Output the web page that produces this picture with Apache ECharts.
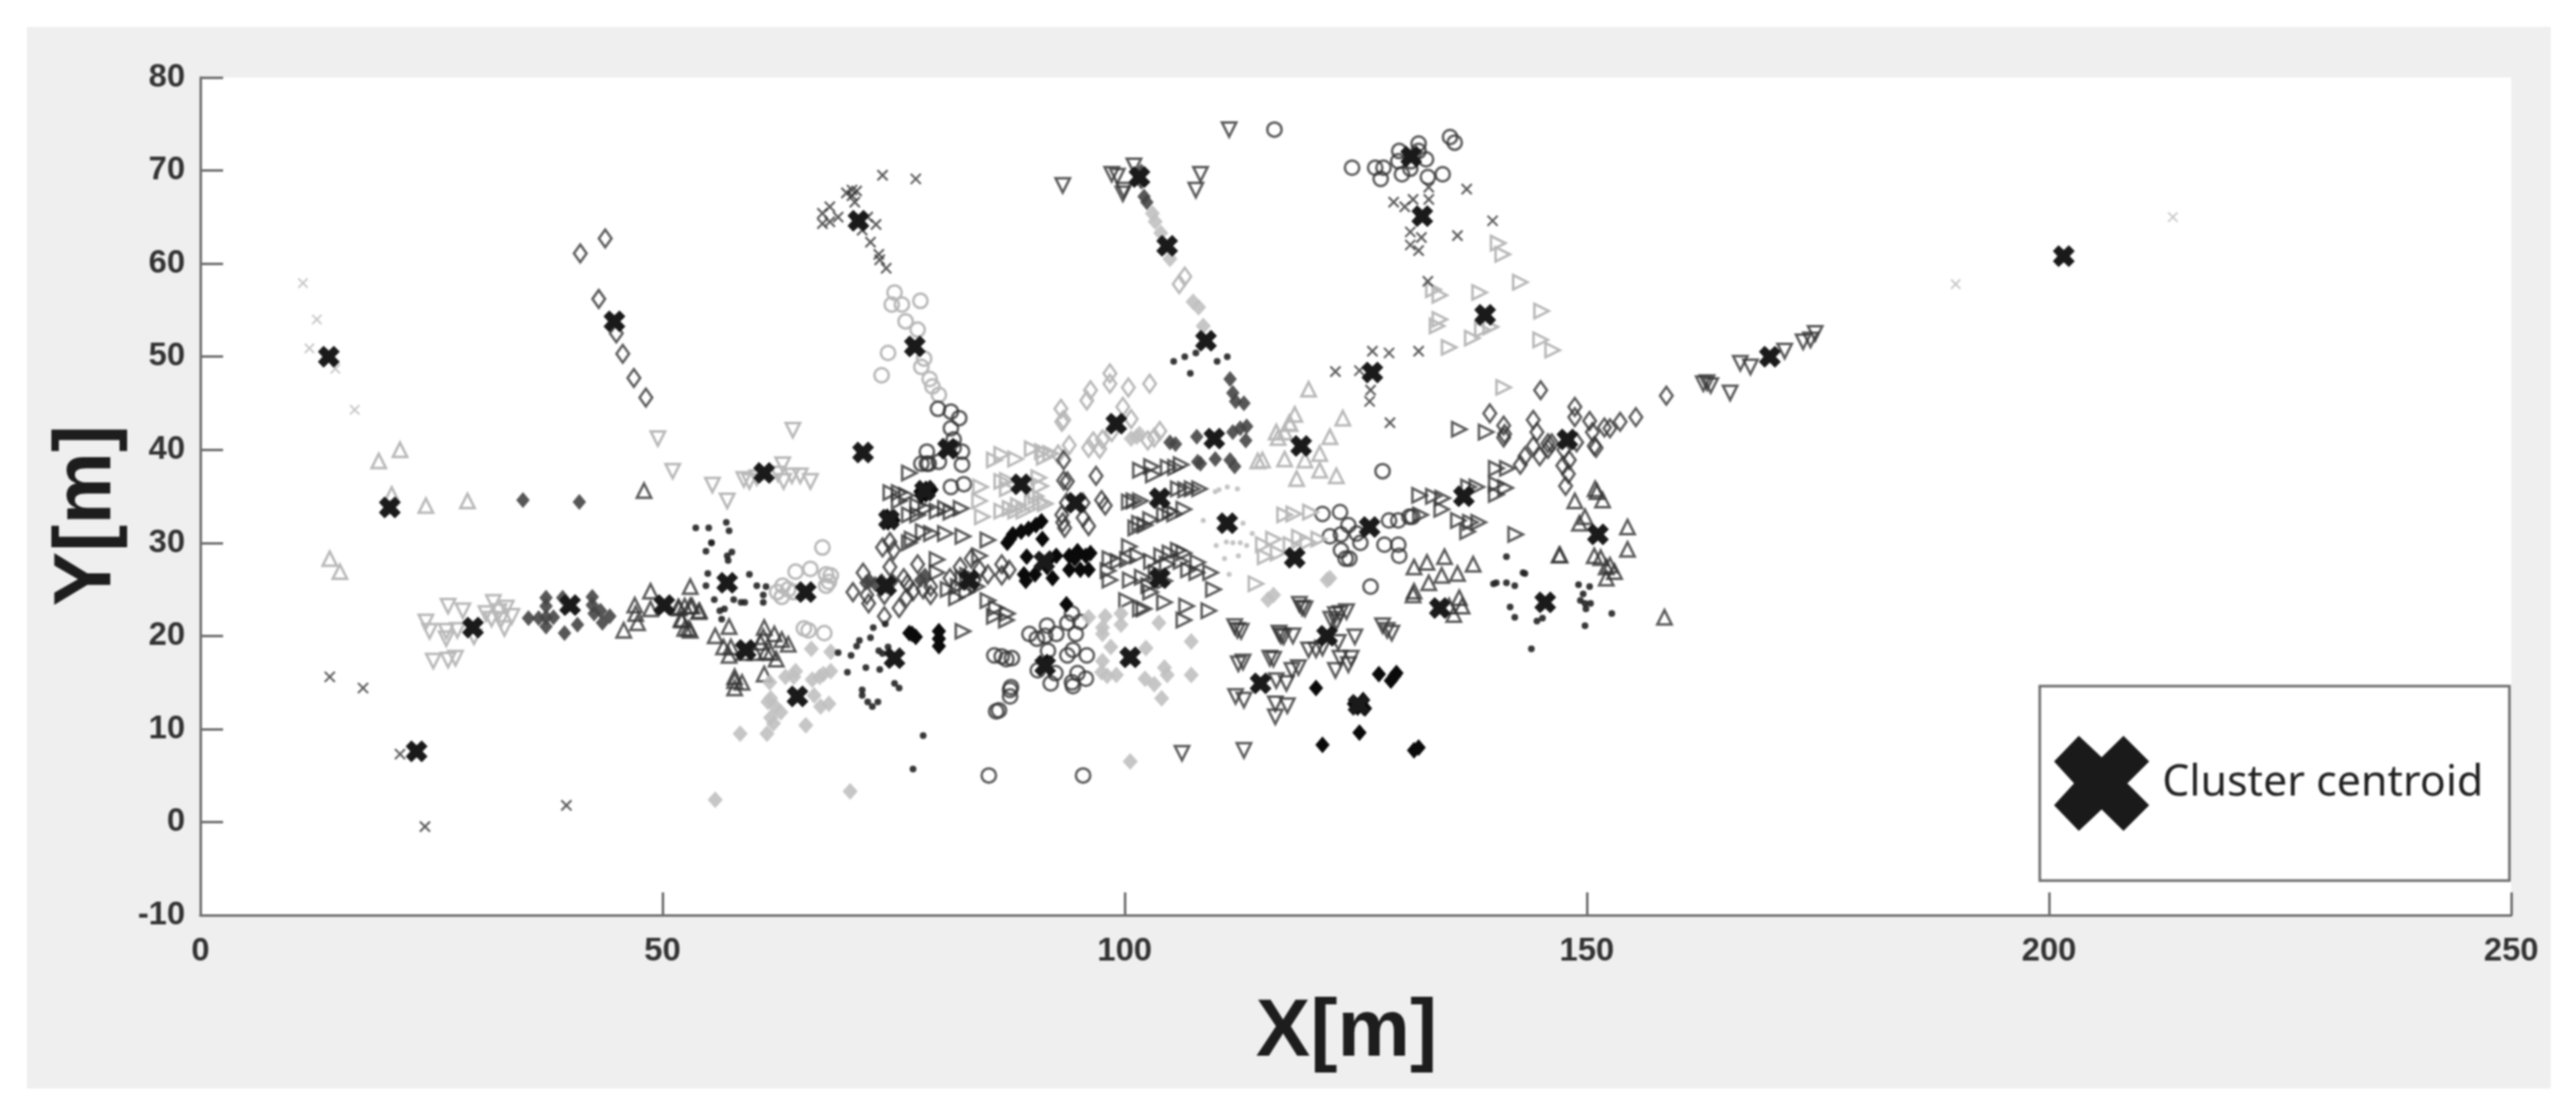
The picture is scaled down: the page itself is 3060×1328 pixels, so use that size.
<!DOCTYPE html>
<html><head><meta charset="utf-8"><title>Cluster centroids</title>
<script src="https://cdn.jsdelivr.net/npm/echarts@6/dist/echarts.min.js"></script>
<style>html,body{margin:0;padding:0;background:#fff;width:3060px;height:1328px;overflow:hidden}
#chart{position:absolute;left:32px;top:32px;width:2998px;height:1261px;filter:blur(0.9px)}</style></head>
<body><div id="chart"></div>
<script>
const xTicks=[0,50,100,150,200,250];
const yTicks=[-10,0,10,20,30,40,50,60,70,80];
const centroids=[[13.9,50],[20.5,33.8],[23.4,7.6],[29.5,20.9],[40,23.3],[50.2,23.3],[44.8,53.8],[57,25.7],[61,37.5],[64.6,13.5],[65.5,24.7],[71.2,64.6],[71.7,39.7],[77.3,51.1],[75.1,17.6],[74.2,25.4],[80.9,40.1],[78.4,35.6],[74.5,32.5],[83.2,26],[88.8,36.3],[94.7,34.3],[103.8,34.8],[111.1,32.1],[118.4,28.4],[126.5,31.7],[136.7,35],[91.3,28],[103.8,26.2],[59,18.5],[100.6,17.7],[91.4,16.8],[121.9,20],[114.7,14.9],[125.3,12.6],[134.1,23],[145.5,23.6],[151.2,30.9],[147.9,41.1],[169.8,50],[201.6,60.8],[104.6,61.9],[108.8,51.7],[132.2,65.1],[139,54.5],[126.8,48.3],[99.1,42.8],[109.7,41.2],[119.1,40.4],[101.6,69.3],[131,71.5]];
const circleLight=[[67.3,29.5],[64.4,26.9],[66,27.2],[67.7,26.6],[68.2,26.5],[67.7,25.4],[63,25.4],[62.4,24.7],[63.6,25],[64.2,24.7],[65.8,20.6],[67.5,20.3],[65.3,20.8],[75.1,56.9],[74.8,55.6],[75.9,55.6],[77.9,56],[76.3,53.8],[77.6,52.9],[74.4,50.4],[73.7,48],[78.3,49.8],[78,48.9],[78.9,47.6],[79.2,46.8],[79.9,45.9],[68,25.8],[62.9,24.2]];
const circleDark=[[79.8,44.4],[81.2,44.1],[82.1,43.4],[81.2,42.3],[81.5,41.1],[78.6,39.8],[78.6,38.5],[82.4,39.8],[82.4,38.4],[81.2,36],[82.6,36.3],[78,38.5],[78.8,38.5],[79.9,38.7],[81.5,40.2],[85.9,17.9],[86.7,17.8],[87.8,17.6],[87.2,17.5],[87.6,14.2],[87.6,13.5],[87.7,14.5],[86.4,12],[86.1,11.9],[89.7,20.2],[90.5,19.7],[91.6,21.1],[91.4,20],[92.6,20.2],[90.6,16.3],[91.7,18.4],[92,14.9],[92.5,16],[93.8,21.4],[94.3,22.4],[95.2,21.5],[94.7,20.2],[93.8,17.9],[94.4,18.5],[95.9,17.9],[94.9,16],[94.4,14.6],[94.3,15],[95.8,15.4],[116.2,74.4],[124.6,70.3],[127.1,70.3],[128,70.3],[127.7,69.1],[129.7,72.1],[131.8,72.9],[131.8,72.1],[130,69.6],[130.9,70.2],[132.6,71.2],[134.4,69.6],[132.8,69.3],[135.2,73.6],[135.7,73],[131,71],[129.6,71],[85.3,5],[95.5,5],[127.9,37.7],[128.6,32.4],[129.6,32.4],[130.8,32.8],[131.1,32.8],[128.1,29.8],[129.6,29.8],[129.7,28.6],[126.6,25.3],[124.3,28.3],[125.5,30],[124.2,31.9],[125.1,31],[121.4,33.1],[123.3,33.3],[122.2,30.7],[123.4,30.9],[123.4,29.2],[123.9,28.3]];
const diamondLight=[[98.4,48.2],[98.4,47.1],[96.3,46.4],[95.9,45.3],[100.4,46.7],[102.7,47.1],[93.1,44.4],[93.4,43.2],[99.8,44.6],[100.7,43.3],[96.6,40.9],[94,40.5],[98.6,41.9],[96.1,40.2],[93.2,43],[92.8,39.5],[97.3,40.1],[97.6,41.1],[102.5,41],[103.2,41.3],[103.8,42],[105.9,57.8],[106.5,58.6]];
const diamondDark=[[41.1,61.1],[43.8,62.7],[43.1,56.2],[45,52.5],[45.7,50.3],[46.9,47.7],[48.2,45.6],[70.6,24.7],[71.7,26.8],[72.3,23.5],[72.1,24.4],[74.6,27.4],[74,24.4],[76.1,26.2],[75.6,23],[76.5,25.6],[77.6,27.7],[78.2,25],[77.1,24.8],[79,24.4],[79,25.3],[76.4,24.1],[74,22.1],[81.1,26.2],[82.2,27.4],[83.4,28.3],[84.3,27.1],[85.2,26.6],[86.7,27.7],[87.5,27.1],[86.7,26.5],[83.7,26],[93.4,38.9],[93.4,36.7],[93.8,36.6],[96.9,37.2],[97.9,34],[97.5,34.6],[93.7,34.3],[95.5,34.3],[93.2,33],[95.5,32.7],[96.1,31.8],[93.5,31.6],[93.3,32.2],[73.8,29.5],[74.6,30.1],[75,29.2],[145,46.4],[139.5,43.9],[141,42.6],[141.1,41.7],[141,41.3],[144.2,43.2],[144.6,41.9],[144.2,40.4],[144.9,39.3],[145.8,40.7],[145.8,40.1],[143.3,39.3],[142.8,38.4],[148.7,44.6],[148.7,43.5],[150.3,43.1],[150.6,41.9],[150.8,40.4],[147.5,40],[148.1,38.9],[147.4,38.3],[148,37.4],[147.7,36.1],[148.9,40.8],[151.9,42.4],[152.5,42.3],[153.6,43],[155.3,43.5],[158.6,45.8],[151,40.2],[146.2,40.7]];
const triUpLight=[[19.3,38.8],[21.6,40],[20.7,35.2],[24.4,34],[28.9,34.5],[14,28.3],[15.1,26.9],[114.9,38.9],[114.4,38.8],[117.3,39],[119.5,38.9],[121.1,37.8],[118.6,36.9],[122.9,37.2],[122.2,41.4],[121.1,39.6],[116.4,41.9],[116.6,41.3],[117.3,41.9],[117.9,42.8],[119.9,46.5],[123.6,43.4],[118.4,43.8],[117.8,42.9]];
const triUpDark=[[48,35.6],[53,25.3],[52.4,23.2],[51.7,23.1],[53,23.2],[53.9,22.6],[52.1,21.7],[52.4,20.8],[53,20.6],[45.8,20.6],[47,23.3],[47.1,22.4],[47.3,21.4],[48.7,24.8],[48.7,22.9],[54,22.7],[52,21.8],[52.8,20.8],[51.8,23],[53.2,23.2],[55.7,20],[57.2,21],[56.6,18.8],[57.4,18.8],[57.2,17.9],[58.8,18.2],[60,18.2],[61,20.9],[60.9,19.9],[62.1,20.2],[62.9,19.6],[63.6,19.1],[61.2,18.3],[62.3,17.5],[60.6,19.3],[61.7,18.2],[61,15.9],[57.8,15.6],[57.8,15.2],[57.8,14.4],[58.6,15],[134.6,28.5],[132.7,27.9],[131.3,27.4],[137.7,27.7],[134.3,26.5],[136,26.7],[132.9,25.7],[131.3,24.8],[131.2,24.4],[147,28.7],[148.7,34.5],[150.8,28.6],[149.2,32.1],[149.8,32.8],[136.2,24.1],[136.5,23.2],[135.6,22.3],[135.1,23.2],[151.1,35.5],[151.7,34.6],[150.9,35.8],[154.4,31.7],[154.4,29.3],[147.1,28.7],[151.5,28.4],[152.1,27.4],[153,26.9],[152.1,26.2],[152.5,27.6],[158.4,22]];
const triDownLight=[[49.5,41.2],[51.1,37.7],[55.4,36.2],[57,34.5],[64.1,42.1],[63,38.4],[58.8,36.8],[59.4,36.6],[60.2,37],[63.1,36.6],[64,37.2],[64.9,37.2],[66,36.6],[62.5,37.4],[24.4,21.5],[24.8,20.5],[26.6,20.5],[26.6,19.7],[27.8,20.6],[26.8,23.2],[28.4,22.7],[31.7,23.6],[33.1,23],[30.9,22.4],[31.5,21.8],[32.5,21.7],[33.7,22.1],[32.9,20.8],[32.3,22.6],[25.2,17.3],[26.8,17.4],[27.6,17.6],[29.6,19.9]];
const triDownDark=[[93.3,68.4],[98.6,69.6],[99.2,69.4],[101,70.5],[99.8,67.5],[99.9,67.9],[108.2,69.6],[107.7,67.9],[111.3,74.4],[162.6,47.1],[163.4,46.9],[163,47.2],[165.5,46.1],[166.6,49.3],[167.7,48.9],[171.4,50.6],[173.4,51.6],[174.2,51.8],[174.7,52.5],[106.2,7.4],[112.9,7.7],[119.5,22.9],[118.9,23.4],[119.2,23],[122.8,22.3],[123.3,22.4],[124,22.6],[122.3,21.8],[122.9,21.5],[112.2,20.6],[112.6,20.5],[111.9,21],[116.9,20],[117.2,19.9],[116.7,20.3],[118.2,20],[119.9,18.5],[120.7,18.5],[121.4,18.7],[123.1,19.3],[124.9,19.9],[123.3,17.6],[124.5,17.6],[124.2,16.9],[122.8,16.3],[127.9,21.1],[128.9,20.3],[128.4,20.6],[112.3,17],[112.8,17.2],[115.7,17.6],[116.1,17.5],[118.1,16.3],[118.8,16.6],[116.4,15.2],[117.5,14.9],[112,13.5],[112.9,13.1],[116.3,12.7],[117.6,12.5],[116.3,11.3]];
const triRightLight=[[84.4,36],[84.3,34.5],[84.6,32.8],[85.9,38.9],[86.7,39.5],[88.2,39],[90,40.1],[91.1,39.8],[91.3,39.2],[92,39.6],[86.7,36.6],[87.3,36.7],[86.7,33.4],[87.6,33.7],[88.2,33.4],[89.1,33.4],[90,34.3],[90.7,37],[90.9,36.1],[90.9,34.3],[91.4,34.2],[87.3,35.8],[90.4,35],[88.5,34],[117.3,33],[118.3,33.1],[120.1,33.3],[115,29.8],[116.1,30.4],[116.6,28.9],[115.2,28.5],[118.9,30.6],[119.8,30.1],[121,30.4],[118,29.8],[114.2,25.6],[140.4,62.2],[140.9,61],[142.8,58],[138.4,56.9],[134.1,56.6],[133.4,57.2],[134.1,54],[133.8,53.3],[145.1,54.9],[135.1,51],[137.6,52],[138.7,52.9],[139.6,53.2],[145,51.8],[146.3,50.7],[141,46.7]];
const triRightDark=[[79.7,28.2],[79.7,26.8],[80.9,25],[82,25.3],[81.8,24.1],[82.9,24.7],[84.3,28.6],[83,26.5],[82.5,26.2],[84,25.3],[77,30.4],[76.7,30],[78.2,31.2],[79.1,31],[80.6,31],[82.5,30.7],[85.2,30.3],[76.7,33],[77.6,33],[78.5,33.7],[79.7,33.4],[80.6,33.7],[81.2,33.3],[82.3,33.7],[77.6,34],[74.7,35.4],[75.6,35.4],[75.6,34.5],[76.4,35.1],[76.7,37.5],[85.2,23.8],[86.1,23],[87.3,22.4],[85.9,22.1],[87.2,21.7],[82.5,20.5],[100.5,29.6],[98.4,28.3],[99.3,28],[98.2,27],[98.4,26],[100.3,28.2],[101.4,28.6],[100.6,26],[101.9,26.3],[102.6,25.4],[102.8,24.7],[102.9,28],[104,28.6],[104.9,28.9],[105.8,29.2],[106.4,28.9],[106.1,28],[106.9,27.1],[107.9,27.9],[107.8,26.8],[109.3,26.8],[109.6,25],[104.3,25.9],[103.4,26.8],[104.6,27.7],[100.2,23.8],[101.7,22.9],[102.1,22.9],[104.3,23.6],[106.7,23.2],[106.4,21.7],[109.1,22.7],[101,34.5],[100.5,34.4],[101.7,34.5],[101.6,32.1],[102.2,31.9],[101.2,31.6],[102.8,32.5],[104.3,33],[105.4,33.1],[106.4,33.6],[104.9,33.4],[105.8,35.8],[106.6,35.7],[107.3,35.8],[108.1,35.8],[101.7,37.8],[102.9,38.2],[103.1,37.3],[104.7,38.1],[105.5,38.1],[106.1,38.4],[136.2,42.2],[131.9,35.1],[133.4,35],[134.4,34.8],[132,33],[134.3,33.6],[138.1,36],[137.2,36],[136.1,32.4],[137.1,31.2],[138.3,32.2],[137.4,32.2],[140.2,38],[141.4,38],[140.2,36.3],[141.2,35.9],[140.2,35.2],[142.3,30.9],[139.1,41.9]];
const xLight=[[11.1,57.9],[12.6,54],[11.8,50.9],[14.6,48.7],[16.7,44.3],[189.9,57.8],[213.4,65]];
const xDark=[[14,15.6],[17.6,14.4],[21.6,7.3],[24.3,-0.5],[39.6,1.8],[73.8,69.5],[77.4,69.1],[70.5,67.9],[69.9,67.6],[71,67.8],[70.5,67.3],[68.1,66.1],[67.3,65.4],[69,65],[67.3,64.3],[68.1,64.5],[70.8,66.6],[72.2,65],[73.1,64.2],[71.6,63.6],[72.5,62.3],[73.4,61],[73.5,60.4],[74.2,59.5],[137,68],[129.1,66.6],[130.3,66.1],[131.2,66.9],[132.9,66.9],[132.9,68.2],[130.9,63.4],[132.1,62.8],[130.9,62],[131.8,61.4],[136,63],[139.8,64.6],[132.8,58.1],[126.8,50.6],[128.6,50.4],[131.8,50.6],[122.8,48.4],[125.4,48.5],[126.6,46.4],[126.5,45.2],[128.7,42.9]];
const starLight=[[66.1,18.6],[68.2,18.3],[64.4,16.2],[63.3,15.6],[64.2,15.6],[67,15.6],[68.2,16.2],[66.2,15.3],[67.4,15.9],[61.7,13.3],[61.4,12.9],[62.2,12.4],[61.7,11.2],[62.8,11.8],[62,10.6],[66.4,13.6],[68,12.7],[67.1,12.4],[65.5,10.4],[61.3,9.5],[58.4,9.5],[61.6,15],[55.7,2.4],[70.3,3.3],[100.6,6.5],[97.9,22.1],[97.6,20.9],[97.6,20.2],[99.6,22.4],[99.6,21.2],[98.5,18.8],[97.6,17.3],[97.5,16.1],[98.1,15.7],[99.1,15.8],[103.7,21.4],[102.3,18.7],[102.2,15.4],[103.2,14.8],[104.3,16.6],[104.6,15.8],[104,13.3],[96.1,22],[107.2,19.4],[107.2,15.8],[103,65.4],[103.3,64.5],[103.9,63.3],[104.9,60.5],[107.4,55.9],[108,55.3],[108.5,53.3],[101.3,41.4],[100.7,41.2],[101.6,41.7],[121.9,26],[122.2,26.2],[115.5,23.9],[116.1,24.4]];
const starDark=[[34.9,34.6],[41,34.4],[35.5,21.9],[36.6,21.9],[37.4,24.1],[37.4,23.2],[37.4,22],[37.4,21],[39.4,20.3],[39.2,24.1],[40.8,21.2],[42.4,24.2],[42.4,23.3],[42.6,22.4],[43.5,21.4],[44.3,22.1],[43.3,22.7],[38.2,22],[104.9,40.8],[105.5,40.6],[107.8,41.4],[111.7,41.9],[112.5,42.3],[113.2,42.5],[113.1,41],[108.2,38.5],[109.8,39],[111.4,38.9],[111.9,38.2],[107.9,38.7],[111.4,47.6],[111.7,46.1],[112,45.2],[112.9,45],[101.8,69.9],[101.8,68.8],[102.1,67.2],[102.4,66.6],[72.4,25.9],[73,25.6],[73.7,25.9],[74.3,25.3],[74.9,25.9],[72,25.7],[78.4,26.5],[77.9,26]];
const starBlack=[[74.3,32.8],[75,32.4],[74.4,32.2],[74.8,32.7],[77.9,35.5],[78.5,35.8],[79.1,35.7],[78,35.1],[78.5,35.2],[87.6,30.4],[87.3,30],[87.9,30.9],[88.8,31.2],[89.6,31.5],[90.4,31.9],[91,32.3],[91.1,30.4],[89.4,28.5],[89.1,26.6],[89.3,25.9],[90.3,26.6],[91.9,28.3],[92.6,28.6],[92.2,26.2],[91.6,27.4],[94,28.6],[94.9,29.1],[95.8,28.6],[96.3,28.9],[94,27.1],[95.2,27.1],[96.1,27.1],[94.6,28.3],[93.7,23.4],[91.6,17.2],[120.7,14.4],[127.5,15.9],[129.2,15.7],[129.4,16],[128.8,15.2],[124.8,12.7],[125.8,13.1],[125.2,12.3],[126,12.2],[125.4,9.6],[121.4,8.3],[131.3,7.7],[131.8,8],[79.9,20.5],[79.9,19.7],[79.9,18.9],[77,20.2],[77.4,19.9],[76.7,20.3]];
const dotLight=[[109.8,35.5],[110.2,35.7],[111.1,36],[112.2,35.8],[108.5,32.4],[112.8,32.1],[113.8,31],[109.9,29.7],[111,30.1],[111.7,30],[112.5,30],[113.2,29.7],[110.8,28.3],[112.3,28.6],[111.3,26.6]];
const dotDark=[[55.3,30],[54.7,29.1],[54.9,26.7],[54.7,25.4],[59.4,26.6],[60.2,25.4],[61.2,25.3],[60.9,24.4],[60.9,23.6],[57.5,29],[57,28.6],[57.1,28.1],[55.6,23.9],[57.7,23.9],[58.5,23.6],[58.9,23.6],[56.2,22.7],[56.7,22.9],[56.4,21.8],[69,18.2],[70.4,17.9],[71,18.9],[71.3,19.5],[72.5,19.8],[72.8,20.9],[74.1,21.3],[70,16.1],[72,16.6],[73.4,18.4],[73.8,18.1],[74.4,18.8],[73.5,16.4],[71.6,14.2],[71.6,13.6],[72.2,12.9],[72.7,12.4],[73.3,12.9],[75.1,14.9],[75.6,14.4],[78.2,9.3],[77.1,5.7],[53.6,31.6],[55,31.6],[56.9,32.2],[57.2,31.3],[55.3,30],[105.3,49.5],[106.5,50],[107.7,50.4],[110,49.5],[111.1,50],[107.1,48.2],[141.3,28.5],[143.1,26.8],[139.9,25.6],[140.2,25.7],[141.3,25.7],[142.2,25.4],[149.1,25.5],[150.3,25.3],[141.7,23.1],[142.2,22],[144.6,21.6],[145.2,21.9],[149.8,21.1],[149.3,23.8],[149.8,23.5],[150.4,23.5],[149.9,22.9],[149.6,24.5],[143.3,26.7],[152.7,22.4],[144,18.6]];

const LIGHT='#b8b8b8',DARK='#333333',BLACK='#0a0a0a';
const crossPath='path://M26,0L50,22.5L73,0L100,27L77,50L100,73L73,100L50,77.5L26,100L0,73L21,50L0,27Z';
const xPath='path://M0,0L10,10M10,0L0,10';
const open=(name,data,symbol,size,color,rotate)=>({name,type:'scatter',data,symbol,symbolSize:size,symbolRotate:rotate||0,silent:true,
  itemStyle:{color:'rgba(0,0,0,0)',borderColor:color,borderWidth:3,opacity:color===LIGHT?1:.8}});
const solid=(name,data,symbol,size,color)=>({name,type:'scatter',data,symbol,symbolSize:size,silent:true,itemStyle:{color,opacity:color===BLACK?1:.9}});

const option={
  animation:false,backgroundColor:'#efefef',
  grid:{show:true,backgroundColor:'#fff',borderWidth:0,left:206,right:47,top:60,bottom:206,containLabel:false,outerBoundsMode:'none'},
  xAxis:{type:'value',min:xTicks[0],max:xTicks[xTicks.length-1],interval:50,
    axisLine:{show:true,onZero:false,lineStyle:{color:'#6e6e6e',width:3}},
    axisTick:{show:true,inside:true,length:27,lineStyle:{color:'#6e6e6e',width:3}},splitLine:{show:false},
    axisLabel:{color:'#333',fontFamily:'Liberation Sans',fontWeight:'bold',fontSize:39,margin:24,hideOverlap:false},
    name:'X[m]',nameLocation:'middle',nameGap:92,
    nameTextStyle:{color:'#1d1d1d',fontFamily:'Liberation Sans',fontWeight:'bold',fontSize:97,padding:[0,22,0,0]}},
  yAxis:{type:'value',min:yTicks[0],max:yTicks[yTicks.length-1],interval:10,
    axisLine:{show:true,onZero:false,lineStyle:{color:'#6e6e6e',width:3}},
    axisTick:{show:true,inside:true,length:27,lineStyle:{color:'#6e6e6e',width:3}},splitLine:{show:false},
    axisLabel:{color:'#333',fontFamily:'Liberation Sans',fontWeight:'bold',fontSize:39,margin:18,hideOverlap:false},
    name:'Y[m]',nameLocation:'middle',nameRotate:90,nameGap:78,
    nameTextStyle:{color:'#1d1d1d',fontFamily:'Liberation Sans',fontWeight:'bold',fontSize:97,padding:[0,46,0,0]}},
  legend:{show:true,data:[{name:'Cluster centroid',icon:crossPath}],left:2391,top:783,orient:'horizontal',selectedMode:false,
    itemWidth:114,itemHeight:113,padding:[59,31,59,17],backgroundColor:'#fff',borderColor:'#6a6a6a',borderWidth:3,borderRadius:0,
    textStyle:{color:'#222',fontFamily:'Noto Sans',fontSize:51,padding:[0,0,0,10]}},
  series:[
    open('Circle light',circleLight,'circle',17,LIGHT),
    open('Circle dark',circleDark,'circle',17,DARK),
    open('Diamond light',diamondLight,'diamond',[15,21],LIGHT),
    open('Diamond dark',diamondDark,'diamond',[15,21],DARK),
    open('Triangle up light',triUpLight,'triangle',17,LIGHT),
    open('Triangle up dark',triUpDark,'triangle',17,DARK),
    open('Triangle down light',triDownLight,'triangle',17,LIGHT,180),
    open('Triangle down dark',triDownDark,'triangle',17,DARK,180),
    open('Triangle right light',triRightLight,'triangle',17,LIGHT,-90),
    open('Triangle right dark',triRightDark,'triangle',17,DARK,-90),
    {name:'X light',type:'scatter',data:xLight,symbol:xPath,symbolSize:11,silent:true,itemStyle:{color:'rgba(0,0,0,0)',borderColor:LIGHT,borderWidth:2}},
    {name:'X dark',type:'scatter',data:xDark,symbol:xPath,symbolSize:12,silent:true,itemStyle:{color:'rgba(0,0,0,0)',borderColor:DARK,borderWidth:2.4}},
    solid('Star light',starLight,'diamond',[18,20],'#c0c0c0'),
    solid('Star dark',starDark,'diamond',[16,19],'#454545'),
    solid('Star black',starBlack,'diamond',[17,20],BLACK),
    solid('Dot light',dotLight,'circle',6,'#bdbdbd'),
    solid('Dot dark',dotDark,'circle',8,'#222'),
    {name:'Cluster centroid',type:'scatter',data:centroids,symbol:crossPath,symbolSize:26,silent:true,z:10,itemStyle:{color:'#1a1a1a',opacity:1}}
  ]
};
echarts.init(document.getElementById('chart')).setOption(option);
</script></body></html>
